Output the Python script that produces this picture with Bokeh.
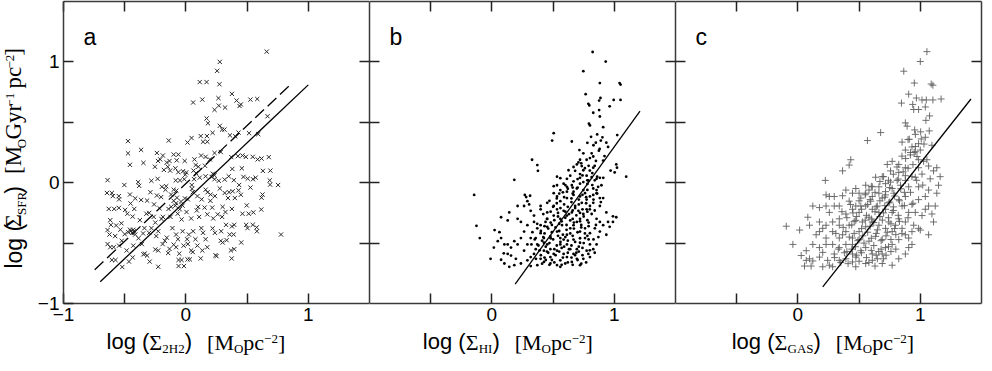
import math
from bokeh.plotting import figure
from bokeh.models import Range1d, FixedTicker, LinearAxis, Label
from bokeh.layouts import row, column
from bokeh.embed import file_html
from bokeh.resources import INLINE

# ---------------- data ----------------
a_pts = [
(0.66,1.085),(0.277,1.0),(0.255,0.926),(0.113,0.833),(0.169,0.833),(0.274,0.815),(0.266,0.70),(0.134,0.688),(0.059,0.664),(0.376,0.735),
(0.414,0.68),(0.449,0.648),(0.438,0.635),(0.527,0.688),(0.583,0.693),(0.269,0.638),(0.32,0.622),(0.234,0.603),(0.667,0.55),(0.169,0.532),
(0.18,0.492),(0.277,0.471),(0.296,0.44),(0.315,0.44),(0.218,0.413),(0.36,0.392),(0.43,0.415),(0.403,0.384),(0.516,0.41),(0.591,0.402),
(0.121,0.386),(0.172,0.386),(0.14,0.339),(0.175,0.339),(0.013,0.333),(0.046,0.37),(-0.14,0.349),(-0.473,0.344),(-0.473,0.243),(-0.366,0.272),
(-0.457,0.148),(-0.347,0.164),(-0.237,0.246),(-0.188,0.225),(-0.228,0.18),(-0.21,0.193),(-0.156,0.167),(-0.134,0.18),(-0.10,0.233),(-0.062,0.233),
(-0.075,0.185),(-0.01,0.18),(0.07,0.193),(0.124,0.225),(0.161,0.214),(0.196,0.193),(0.234,0.246),(0.285,0.254),(0.371,0.212),(0.425,0.22),
(0.462,0.225),(0.49,0.214),(0.546,0.214),(0.586,0.193),(0.618,0.20),(0.677,0.212),(-0.253,0.132),(-0.18,0.106),(-0.148,0.132),(-0.129,0.10),
(-0.086,0.119),(-0.062,0.087),(-0.024,0.095),(0.003,0.085),(-0.005,0.066),(0.08,0.146),(0.102,0.132),(0.062,0.10),(0.083,0.079),(0.156,0.14),
(0.22,0.074),(0.234,0.061),(0.379,0.114),(0.457,0.119),(0.629,0.098),(0.69,0.10),(-0.282,0.016),(-0.231,0.032),(-0.39,0.005),(-0.382,-0.026),
(-0.503,-0.019),(-0.64,0.021),(-0.161,-0.029),(-0.196,-0.034),(-0.083,0.019),(-0.048,0.019),(-0.013,0.029),(0.067,0.029),(0.048,-0.019),(0.113,0.042),
(0.161,0.053),(0.21,0.048),(0.234,0.029),(0.269,0.016),(0.317,0.026),(0.35,0.053),(0.392,0.021),(0.435,-0.019),(0.47,0.048),(0.505,0.034),
(0.548,0.029),(0.57,0.042),(0.685,0.019),(0.688,-0.016),(0.753,-0.019),(0.527,-0.04),(-0.645,-0.085),(-0.605,-0.085),(-0.597,-0.111),(-0.548,-0.111),
(-0.546,-0.138),(-0.63,-0.217),(-0.586,-0.217),(-0.548,-0.209),(-0.457,-0.098),(-0.414,-0.13),(-0.452,-0.172),(-0.366,-0.143),(-0.317,-0.148),(-0.29,-0.079),
(-0.237,-0.106),(-0.202,-0.119),(-0.167,-0.058),(-0.121,-0.098),(-0.10,-0.058),(-0.078,-0.066),(-0.073,-0.124),(-0.04,-0.156),(-0.027,-0.19),(-0.008,-0.13),
(0.016,-0.138),(0.056,-0.079),(0.094,-0.111),(0.129,-0.138),(0.161,-0.058),(0.177,-0.079),(0.202,-0.098),(0.237,-0.111),(0.277,-0.048),(0.317,-0.085),
(0.344,-0.127),(0.352,-0.079),(0.382,-0.071),(0.40,-0.127),(0.43,-0.063),(0.449,-0.10),(0.497,-0.188),(0.626,-0.098),(0.618,-0.124),(0.376,-0.217),
(0.462,-0.257),(0.513,-0.257),(0.551,-0.246),(0.616,-0.222),(-0.618,-0.31),(-0.613,-0.349),(-0.57,-0.354),(-0.527,-0.336),(-0.497,-0.225),(-0.478,-0.257),
(-0.435,-0.28),(-0.422,-0.217),(-0.376,-0.31),(-0.323,-0.257),(-0.263,-0.283),(-0.26,-0.18),(-0.215,-0.212),(-0.188,-0.283),(-0.142,-0.217),(-0.126,-0.283),
(-0.086,-0.19),(-0.067,-0.257),(-0.035,-0.304),(0.005,-0.243),(0.043,-0.296),(0.089,-0.23),(0.108,-0.283),(0.153,-0.206),(0.175,-0.262),(0.215,-0.206),
(0.223,-0.296),(0.26,-0.262),(0.296,-0.283),(0.323,-0.243),(0.328,-0.349),(0.376,-0.362),(0.395,-0.349),(0.492,-0.349),(0.503,-0.376),(0.546,-0.349),
(0.58,-0.402),(0.578,-0.37),(-0.64,-0.392),(-0.624,-0.429),(-0.578,-0.442),(-0.535,-0.389),(-0.50,-0.426),(-0.457,-0.389),(-0.44,-0.415),(-0.425,-0.402),
(-0.414,-0.429),(-0.387,-0.46),(-0.339,-0.376),(-0.30,-0.415),(-0.282,-0.376),(-0.242,-0.442),(-0.226,-0.402),(-0.172,-0.481),(-0.156,-0.455),(-0.11,-0.376),
(-0.08,-0.429),(-0.065,-0.468),(-0.027,-0.402),(0.01,-0.468),(0.024,-0.429),(0.059,-0.402),(0.078,-0.468),(0.126,-0.376),(0.14,-0.415),(0.161,-0.468),
(0.218,-0.378),(0.237,-0.415),(0.288,-0.402),(0.30,-0.495),(0.358,-0.429),(0.39,-0.429),(0.452,-0.495),(0.777,-0.429),(-0.64,-0.508),(-0.618,-0.534),
(-0.59,-0.534),(-0.546,-0.521),(-0.524,-0.481),(-0.484,-0.561),(-0.43,-0.521),(-0.36,-0.508),(-0.336,-0.587),(-0.317,-0.603),(-0.25,-0.553),(-0.226,-0.561),
(-0.19,-0.508),(-0.134,-0.548),(-0.10,-0.513),(-0.08,-0.534),(-0.054,-0.587),(-0.019,-0.521),(0.016,-0.508),(0.043,-0.561),(0.056,-0.574),(0.094,-0.521),
(0.134,-0.561),(0.175,-0.534),(0.242,-0.60),(0.25,-0.608),(0.285,-0.481),(0.333,-0.476),(0.368,-0.561),(0.395,-0.55),(0.374,-0.627),(-0.605,-0.64),
(-0.575,-0.64),(-0.52,-0.698),(-0.465,-0.653),(-0.435,-0.619),(-0.347,-0.593),(-0.296,-0.653),(-0.226,-0.696),(-0.145,-0.582),(-0.06,-0.64),(-0.035,-0.64),
(-0.06,-0.69),(-0.016,-0.69),(0.013,-0.635),(0.032,-0.635),(0.121,-0.627),(-0.45,-0.40),(-0.43,-0.39),(-0.47,-0.41),(-0.10,-0.15),(-0.08,-0.17),
(-0.12,-0.20),(-0.05,-0.22),(-0.20,-0.30),(-0.25,-0.33),(0.05,-0.05),(0.10,-0.20),(-0.30,-0.25),(-0.35,-0.42),(0.20,-0.15),(0.30,-0.20),
]

b_pts = [
(0.823,1.082),(0.93,1.003),(0.747,0.923),(0.882,0.825),(1.043,0.825),(1.051,0.812),(0.766,0.733),(0.887,0.701),(0.876,0.68),(0.995,0.685),
(1.051,0.685),(0.788,0.653),(0.796,0.64),(0.962,0.632),(0.876,0.601),(0.828,0.579),(0.882,0.548),(0.793,0.489),(0.801,0.474),(0.909,0.46),
(1.024,0.394),(0.505,0.41),(0.492,0.349),(0.653,0.341),(0.903,0.376),(0.89,0.349),(0.849,0.331),(0.935,0.331),(0.949,0.296),(0.874,0.265),
(0.715,0.27),(0.747,0.243),(0.815,0.243),(0.828,0.217),(0.801,0.204),(0.774,0.19),(0.909,0.183),(0.328,0.19),(0.371,0.146),(0.376,0.098),
(0.72,0.19),(0.707,0.169),(0.694,0.151),(0.734,0.138),(0.667,0.13),(0.626,0.103),(0.68,0.098),(0.747,0.103),(0.828,0.124),(1.016,0.151),
(1.022,0.124),(1.003,0.085),(1.097,0.05),(0.183,0.024),(0.532,0.05),(0.559,0.037),(0.613,0.032),(0.64,0.058),(0.72,0.071),(0.774,0.058),
(0.815,0.045),(0.855,0.032),(0.882,0.04),(0.788,0.019),(0.747,0.005),(0.667,0.011),(0.586,-0.008),(0.532,-0.021),(0.505,-0.029),(0.559,-0.061),
(0.613,-0.074),(0.694,-0.048),(0.747,-0.061),(0.828,-0.048),(0.868,-0.034),(0.895,-0.021),(-0.145,-0.101),(0.269,-0.101),(0.28,-0.119),(0.312,-0.108),
(0.29,-0.153),(0.304,-0.18),(0.263,-0.193),(0.21,-0.193),(0.142,-0.246),(0.075,-0.286),(0.129,-0.312),(0.21,-0.299),(0.237,-0.325),(0.317,-0.233),
(0.344,-0.272),(0.398,-0.193),(0.452,-0.167),(0.505,-0.087),(0.532,-0.114),(0.559,-0.153),(0.613,-0.127),(0.667,-0.101),(0.72,-0.114),(0.774,-0.14),
(0.828,-0.167),(0.882,-0.193),(0.855,-0.087),(0.909,-0.127),(0.935,-0.246),(0.989,-0.278),(1.016,-0.286),(-0.126,-0.357),(-0.099,-0.458),(0.022,-0.392),
(0.062,-0.41),(0.075,-0.458),(0.016,-0.537),(0.048,-0.484),(0.097,-0.585),(0.129,-0.59),(0.156,-0.603),(0.196,-0.63),(-0.011,-0.63),(0.075,-0.638),
(0.102,-0.669),(0.142,-0.696),(0.183,-0.683),(0.237,-0.669),(0.29,-0.643),(0.317,-0.616),(0.344,-0.59),(0.358,-0.55),(0.323,-0.511),(0.358,-0.458),
(0.331,-0.41),(0.371,-0.378),(0.398,-0.352),(0.438,-0.325),(0.452,-0.365),(0.398,-0.418),(0.425,-0.458),(0.452,-0.511),(0.478,-0.55),(0.505,-0.59),
(0.532,-0.563),(0.559,-0.511),(0.586,-0.471),(0.613,-0.431),(0.64,-0.378),(0.667,-0.352),(0.694,-0.325),(0.72,-0.299),(0.747,-0.259),(0.774,-0.22),
(0.801,-0.193),(0.815,-0.259),(0.855,-0.299),(0.882,-0.325),(0.841,-0.378),(0.801,-0.418),(0.761,-0.458),(0.72,-0.497),(0.694,-0.55),(0.667,-0.59),
(0.613,-0.616),(0.559,-0.643),(0.532,-0.683),(0.478,-0.669),(0.425,-0.656),(0.398,-0.63),(0.371,-0.683),(0.317,-0.69),(0.559,-0.696),(0.599,-0.669),
(0.653,-0.656),(0.72,-0.683),(0.747,-0.63),(0.788,-0.59),(0.828,-0.55),(0.855,-0.511),(0.801,-0.511),(0.774,-0.563),(0.962,-0.365),(0.989,-0.325),
(0.935,-0.431),(0.398,-0.22),(0.452,-0.246),(0.505,-0.272),(0.559,-0.299),(0.532,-0.22),(0.586,-0.233),(0.613,-0.272),(0.64,-0.312),(0.573,-0.352),
(0.532,-0.405),(0.478,-0.444),(0.425,-0.497),(0.559,-0.458),(0.613,-0.511),(0.667,-0.471),(0.72,-0.405),(0.761,-0.378),(0.68,-0.193),(0.707,-0.233),
(0.653,-0.246),(0.734,-0.167),(0.761,-0.087),(0.667,-0.074),(0.55,-0.09),(0.505,-0.193),(0.452,-0.299),(0.371,-0.511),(0.425,-0.563),(0.478,-0.616),
(0.344,-0.325),(0.29,-0.352),(0.263,-0.405),(0.237,-0.458),(0.21,-0.511),(0.263,-0.563),(0.29,-0.511),(0.317,-0.458),(0.183,-0.484),(0.156,-0.537),
(0.129,-0.511),(0.102,-0.511),(0.586,-0.59),(0.64,-0.55),(0.694,-0.63),(0.801,-0.616),(0.882,-0.405),(0.909,-0.352),(0.949,-0.325),(0.882,-0.127),
(0.828,-0.101),(0.855,-0.061),(0.801,-0.114),(0.72,-0.008),(0.653,-0.021),(0.613,-0.034),
(0.40,-0.60),(0.43,-0.62),(0.46,-0.58),(0.49,-0.64),(0.52,-0.60),(0.55,-0.57),(0.58,-0.62),(0.62,-0.58),(0.65,-0.62),(0.68,-0.60),
(0.71,-0.57),(0.74,-0.60),(0.77,-0.66),(0.38,-0.52),(0.41,-0.48),(0.44,-0.53),(0.47,-0.50),(0.50,-0.47),(0.53,-0.52),(0.56,-0.49),
(0.59,-0.53),(0.62,-0.48),(0.65,-0.52),(0.68,-0.49),(0.71,-0.53),(0.75,-0.50),(0.79,-0.47),(0.40,-0.40),(0.43,-0.42),(0.46,-0.38),
(0.49,-0.41),(0.52,-0.37),(0.55,-0.40),(0.58,-0.43),(0.61,-0.39),(0.64,-0.42),(0.67,-0.38),(0.70,-0.41),(0.73,-0.37),(0.76,-0.42),
(0.79,-0.36),(0.45,-0.30),(0.48,-0.33),(0.51,-0.31),(0.54,-0.28),(0.57,-0.32),(0.60,-0.29),(0.63,-0.26),(0.66,-0.30),(0.69,-0.27),
(0.72,-0.32),(0.75,-0.28),(0.78,-0.31),(0.50,-0.20),(0.53,-0.17),(0.56,-0.21),(0.59,-0.18),(0.62,-0.20),(0.65,-0.16),(0.68,-0.21),
(0.71,-0.18),(0.74,-0.22),(0.77,-0.17),(0.80,-0.22),(0.58,-0.08),(0.62,-0.05),(0.66,-0.09),(0.70,-0.04),(0.74,-0.10),(0.78,-0.06),
(0.82,-0.02),(0.86,-0.09),(0.70,0.03),(0.74,0.06),(0.78,0.02),(0.82,0.08),(0.86,0.05),(0.76,0.12),(0.80,0.10),(0.84,0.14),
(0.36,-0.63),(0.41,-0.67),(0.44,-0.64),(0.47,-0.68),(0.51,-0.66),(0.57,-0.68),(0.62,-0.66),(0.66,-0.68),(0.70,-0.64),(0.73,-0.67),
(0.39,-0.56),(0.45,-0.57),(0.51,-0.55),(0.57,-0.54),(0.63,-0.55),(0.69,-0.58),(0.74,-0.54),(0.80,-0.56),(0.84,-0.58),(0.35,-0.47),
(0.42,-0.45),(0.48,-0.46),(0.54,-0.44),(0.60,-0.45),(0.66,-0.44),(0.72,-0.46),(0.78,-0.44),(0.83,-0.47),(0.87,-0.45),(0.37,-0.34),
(0.43,-0.36),(0.49,-0.35),(0.55,-0.34),(0.61,-0.35),(0.67,-0.33),(0.73,-0.35),(0.79,-0.33),(0.85,-0.35),(0.42,-0.26),(0.48,-0.24),
(0.54,-0.25),(0.60,-0.24),(0.66,-0.23),(0.72,-0.25),(0.78,-0.24),(0.84,-0.23),(0.47,-0.15),(0.53,-0.13),(0.59,-0.12),(0.65,-0.13),
(0.71,-0.14),(0.77,-0.12),(0.83,-0.14),(0.89,-0.16),(0.60,-0.02),(0.66,-0.04),(0.72,0.04),(0.78,-0.01),(0.84,0.02),(0.91,0.04),
(0.73,0.16),(0.79,0.14),(0.85,0.18),(0.88,0.28),(0.83,0.31),(0.78,0.33),(0.86,0.40),(0.81,0.38),(0.92,0.22),(0.97,0.10),
]

c_pts = [
(1.054,1.085),(1.0,1.003),(0.865,0.923),(0.951,0.825),(1.089,0.817),(1.103,0.807),(0.905,0.733),(0.846,0.659),(0.968,0.701),(0.938,0.648),
(1.014,0.685),(1.049,0.685),(1.103,0.685),(1.17,0.693),(0.946,0.606),(0.986,0.606),(1.041,0.627),(1.076,0.553),(1.046,0.516),(0.878,0.495),
(0.892,0.468),(0.954,0.437),(1.003,0.421),(1.073,0.429),(1.041,0.376),(1.008,0.362),(0.676,0.415),(0.568,0.349),(0.9,0.357),(0.851,0.336),
(0.986,0.323),(0.932,0.296),(1.095,0.31),(0.878,0.27),(0.959,0.257),(0.919,0.23),(0.973,0.217),(1.054,0.19),(0.432,0.19),(0.419,0.146),
(0.365,0.098),(0.224,0.019),(0.77,0.177),(0.73,0.151),(0.824,0.151),(0.878,0.124),(0.986,0.124),(1.068,0.138),(1.108,0.098),(1.162,0.05),
(0.757,0.098),(0.689,0.05),(0.824,0.085),(0.878,0.058),(0.932,0.05),(1.014,0.071),(1.081,0.032),(0.635,0.045),(0.554,-0.021),(0.473,-0.048),
(0.23,-0.101),(0.297,-0.114),(0.365,-0.108),(0.122,-0.193),(0.176,-0.206),(0.257,-0.246),(0.081,-0.286),(-0.095,-0.36),(0.014,-0.392),(-0.041,-0.511),
(0.392,-0.061),(0.446,-0.087),(0.50,-0.087),(0.581,-0.061),(0.662,-0.034),(0.716,-0.074),(0.77,-0.048),(0.838,-0.021),(0.905,-0.034),(0.986,-0.034),
(1.068,-0.061),(1.135,-0.087),(0.608,-0.114),(0.689,-0.127),(0.743,-0.167),(0.824,-0.14),(0.878,-0.114),(0.932,-0.18),(0.986,-0.14),(1.041,-0.22),
(1.095,-0.259),(1.108,-0.325),(1.068,-0.431),(0.554,-0.193),(0.608,-0.22),(0.662,-0.246),(0.716,-0.22),(0.77,-0.246),(0.824,-0.299),(0.878,-0.325),
(0.946,-0.352),(1.0,-0.392),(0.50,-0.246),(0.446,-0.22),(0.392,-0.259),(0.338,-0.299),(0.284,-0.325),(0.23,-0.352),(0.176,-0.405),(0.149,-0.431),
(0.122,-0.511),(0.068,-0.563),(0.027,-0.603),(0.068,-0.643),(0.054,-0.69),(0.108,-0.69),(0.122,-0.648),(0.176,-0.616),(0.203,-0.577),(0.243,-0.643),
(0.257,-0.683),(0.297,-0.59),(0.338,-0.537),(0.392,-0.511),(0.446,-0.59),(0.473,-0.616),(0.514,-0.563),(0.554,-0.537),(0.608,-0.59),(0.649,-0.63),
(0.689,-0.59),(0.716,-0.537),(0.77,-0.511),(0.824,-0.471),(0.878,-0.431),(0.932,-0.405),(0.986,-0.378),(0.50,-0.405),(0.554,-0.365),(0.608,-0.325),
(0.662,-0.352),(0.716,-0.378),(0.77,-0.405),(0.446,-0.458),(0.392,-0.405),(0.338,-0.458),(0.284,-0.511),(0.23,-0.511),(0.554,-0.669),(0.608,-0.643),
(0.689,-0.669),(0.77,-0.683),(0.824,-0.63),(0.878,-0.59),(0.905,-0.537),(0.932,-0.511),(0.284,-0.696),(0.338,-0.643),(0.392,-0.63),(0.446,-0.656),
(0.473,-0.696),(0.50,-0.471),(0.581,-0.484),(0.635,-0.444),(0.689,-0.471),(0.743,-0.325),(0.797,-0.352),(0.851,-0.378),(0.905,-0.458),(0.419,-0.352),
(0.473,-0.312),(0.527,-0.325),(0.581,-0.286),(0.365,-0.431),(0.446,-0.511),(0.23,-0.458),(0.176,-0.537),(0.095,-0.63),(0.203,-0.696),(0.514,-0.193),
(0.595,-0.153),(0.649,-0.193),(0.716,-0.101),(0.784,-0.087),(0.851,-0.193),(0.905,-0.246),(0.959,-0.246),(1.014,-0.272),(1.068,-0.193),(0.959,0.045),
(0.878,0.019),(0.811,0.019),(0.757,0.005),(0.716,-0.008),(0.662,-0.087),(0.608,-0.034),(0.554,-0.087),(0.514,-0.127),(0.473,-0.193),(0.419,-0.153),
(0.338,-0.193),(0.297,-0.193),(0.257,-0.114),(0.23,-0.193),(0.176,-0.325),(0.203,-0.378),(0.095,-0.352),(0.284,-0.405),(0.338,-0.352),(1.041,-0.114),
(1.122,-0.193),(1.149,-0.021),(1.135,0.124),(1.027,0.177),(0.986,0.19),
(0.45,-0.25),(0.48,-0.28),(0.52,-0.22),(0.56,-0.27),(0.60,-0.30),(0.63,-0.24),(0.67,-0.28),(0.70,-0.25),(0.74,-0.29),(0.78,-0.23),
(0.82,-0.27),(0.42,-0.45),(0.46,-0.42),(0.49,-0.48),(0.53,-0.44),(0.57,-0.41),(0.60,-0.46),(0.64,-0.42),(0.68,-0.48),(0.72,-0.44),
(0.76,-0.47),(0.80,-0.43),(0.40,-0.57),(0.44,-0.55),(0.48,-0.60),(0.52,-0.58),(0.56,-0.62),(0.60,-0.56),(0.64,-0.60),(0.68,-0.55),
(0.72,-0.60),(0.76,-0.57),(0.55,-0.10),(0.59,-0.14),(0.63,-0.08),(0.67,-0.15),(0.71,-0.12),(0.75,-0.16),(0.79,-0.11),(0.83,-0.15),
(0.87,-0.08),(0.70,0.05),(0.74,0.02),(0.78,0.07),(0.82,0.03),(0.86,0.09),(0.90,0.12),(0.94,0.15),(0.88,0.20),(0.92,0.25),(0.96,0.30),
(0.30,-0.62),(0.35,-0.66),(0.41,-0.67),(0.50,-0.65),(0.58,-0.66),(0.63,-0.69),(0.70,-0.63),(0.33,-0.55),(0.38,-0.58),(0.47,-0.53),
(0.54,-0.50),(0.62,-0.52),(0.66,-0.57),(0.74,-0.53),(0.80,-0.55),(0.31,-0.42),(0.37,-0.37),(0.44,-0.35),(0.52,-0.38),(0.59,-0.36),
(0.65,-0.39),(0.73,-0.41),(0.79,-0.38),(0.85,-0.42),(0.40,-0.29),(0.46,-0.32),(0.55,-0.31),(0.62,-0.33),(0.69,-0.31),(0.76,-0.34),
(0.83,-0.32),(0.90,-0.29),(0.36,-0.24),(0.43,-0.18),(0.50,-0.15),(0.57,-0.18),(0.64,-0.20),(0.71,-0.19),(0.78,-0.20),(0.87,-0.19),
(0.94,-0.17),(0.60,-0.03),(0.67,0.01),(0.75,-0.04),(0.84,-0.05),(0.92,-0.08),(0.97,0.02),(1.02,-0.02),(0.81,0.13),(0.85,0.22),
(0.95,0.25),(1.00,0.27),(0.91,0.36),(0.96,0.40),(1.03,0.32),
]

a_x = [p[0] for p in a_pts]; a_y = [p[1] for p in a_pts]
b_x = [p[0] for p in b_pts]; b_y = [p[1] for p in b_pts]
c_x = [p[0] for p in c_pts]; c_y = [p[1] for p in c_pts]

# fitted relations (end points)
a_fit_x = [-0.70, 1.00];  a_fit_y = [-0.82, 0.81]
a_dash_x = [-0.745, 0.852]; a_dash_y = [-0.72, 0.81]
b_fit_x = [0.19, 1.21];   b_fit_y = [-0.84, 0.593]
c_fit_x = [0.203, 1.414]; c_fit_y = [-0.862, 0.693]

x_ticks = [-1, -0.5, 0, 0.5, 1]
y_ticks = [-1, -0.5, 0, 0.5, 1]
tick_text = {-1: "\u22121", -0.5: "", 0: "0", 0.5: "", 1: "1"}
panel_letters = ["a", "b", "c"]
x_subs = ["2H2", "HI", "GAS"]
y_sub = "SFR"

# ---------------- layout constants ----------------
FRAME_W, FRAME_H = 306, 302
TOP, BOTTOM = 1, 26
YLAB_W = 28
LEFT_A = 35
PANEL_H = TOP + FRAME_H + BOTTOM        # 329
XLAB_H = 26                              # 329 .. 355
PX_X = FRAME_W / 2.5
PX_Y = FRAME_H / 2.5
SANS, SERIF = "Liberation Sans", "Liberation Serif"
SPINE = "#3a3a3a"
MID = {SANS: 0.3465, SERIF: 0.3375}      # baseline -> middle of the em box, in em

W_SANS = {'l': 222, 'o': 556, 'g': 556, ' ': 278, '(': 333, ')': 333}
W_SERIF = {'\u03a3': 592, '[': 333, ']': 333, 'M': 889, 'O': 722, 'p': 500, 'c': 444, 'G': 722,
           'y': 500, 'r': 333, '\u2212': 564, '1': 500, '2': 500, 'S': 556, 'F': 556, 'R': 667,
           'H': 722, 'I': 333, 'A': 722, ' ': 250}


def text_w(s, font, size):
    table = W_SANS if font == SANS else W_SERIF
    return sum(table.get(ch, 550) for ch in s) * size / 1000.0


def add_rich(p, pieces, x, y, vertical=False):
    """x, y: start of the baseline, in the strip's pixel-like data units (y up)."""
    for txt, font, size, shift in pieces:
        if font is None:
            adv = size
        else:
            up = shift + MID[font] * size
            lx, ly = (x - up, y) if vertical else (x, y + up)
            p.add_layout(Label(x=lx, y=ly, text=txt, text_font=font, text_font_size=f"{size}px",
                               text_color="black", text_align="left", text_baseline="middle",
                               angle=(math.pi / 2 if vertical else 0)))
            adv = text_w(txt, font, size)
        if vertical:
            y += adv
        else:
            x += adv


def rich_width(pieces):
    return sum(pc[2] if pc[1] is None else text_w(pc[0], pc[1], pc[2]) for pc in pieces)


def xlabel_pieces(sub):
    return [("log (", SANS, 22, 0), ("\u03a3", SERIF, 22, 0), (sub, SERIF, 13, -3), (")", SANS, 22, 0),
            ("", None, 15, 0), ("[M", SERIF, 22, 0), ("O", SERIF, 13, -3), ("pc", SERIF, 22, 0),
            ("\u22122", SERIF, 13, 6), ("]", SERIF, 22, 0)]


ylabel_pieces = [("log (", SANS, 23, 0), ("\u03a3", SERIF, 23, 0), (y_sub, SERIF, 13, -4), (")", SANS, 23, 0),
                 ("", None, 14, 0), ("[M", SERIF, 23, 0), ("O", SERIF, 13, -4), ("Gyr", SERIF, 23, 0),
                 ("\u22121", SERIF, 13, 7), ("", None, 6, 0), ("pc", SERIF, 23, 0),
                 ("\u22122", SERIF, 13, 7), ("]", SERIF, 23, 0)]


def make_axis(ticks, labels, show):
    ax = LinearAxis(ticker=FixedTicker(ticks=ticks))
    ax.major_tick_in = 10
    ax.major_tick_out = 0
    ax.minor_tick_line_color = None
    ax.major_tick_line_color = "#222222"
    ax.major_tick_line_width = 1.5
    ax.axis_line_color = SPINE
    ax.axis_line_width = 1.5
    if show:
        ax.major_label_overrides = labels
        ax.major_label_text_font = SANS
        ax.major_label_text_font_size = "19px"
        ax.major_label_text_color = "black"
        ax.major_label_standoff = 4
    else:
        ax.major_label_overrides = {t: "" for t in ticks}
        ax.major_label_text_font_size = "0px"
        ax.major_label_standoff = 0
    return ax


def blank_fig(w, h):
    f = figure(width=w, height=h, x_range=Range1d(0, w), y_range=Range1d(0, h),
               x_axis_location=None, y_axis_location=None, min_border=0,
               output_backend="svg", toolbar_location=None)
    f.grid.visible = False
    f.outline_line_color = None
    f.border_fill_color = "white"
    return f


def make_panel(idx, left, right, show_y):
    p = figure(width=left + FRAME_W + right, height=PANEL_H,
               x_range=Range1d(-1, 1.5), y_range=Range1d(-1, 1.5),
               x_axis_location=None, y_axis_location=None,
               min_border_left=left, min_border_right=right, min_border_top=TOP,
               min_border_bottom=BOTTOM, output_backend="svg", toolbar_location=None)
    p.grid.visible = False
    p.outline_line_color = None
    p.background_fill_color = "white"
    p.border_fill_color = "white"
    xt = x_ticks if idx == 0 else x_ticks[1:]
    p.add_layout(make_axis(xt, tick_text, True), "below")
    p.add_layout(make_axis(xt, tick_text, False), "above")
    p.add_layout(make_axis(y_ticks[1:], tick_text, False), "right")
    if show_y:
        p.add_layout(make_axis(y_ticks, tick_text, True), "left")
    else:
        p.add_layout(make_axis(y_ticks[1:], tick_text, False), "left")
    # letter: baseline 43 px below the frame top, 20 px in from the left spine
    mid_px = 43 - MID[SANS] * 23
    p.add_layout(Label(x=-1 + 20 / PX_X, y=1.5 - mid_px / PX_Y, text=panel_letters[idx], text_font=SANS,
                       text_font_size="23px", text_color="black", text_baseline="middle"))
    return p


pa = make_panel(0, LEFT_A, 0, True)
pb = make_panel(1, 0, 0, False)
pc = make_panel(2, 0, 2, False)

pa.scatter(a_x, a_y, marker="x", size=6, line_color="#2a2a2a", line_width=1)
pa.line(a_fit_x, a_fit_y, line_color="black", line_width=1.3)
pa.line(a_dash_x, a_dash_y, line_color="black", line_width=1.3, line_dash="12 5")

pb.scatter(b_x, b_y, marker="circle", size=2.8, fill_color="black", line_color=None)
pb.line(b_fit_x, b_fit_y, line_color="black", line_width=1.3)

pc.scatter(c_x, c_y, marker="cross", size=7, line_color="#606060", line_alpha=0.9, line_width=1)
pc.line(c_fit_x, c_fit_y, line_color="black", line_width=1.3)

# axis titles, composed from text pieces in two label strips
total_w = YLAB_W + LEFT_A + 3 * FRAME_W + 2
ylab = blank_fig(YLAB_W, PANEL_H)
add_rich(ylab, ylabel_pieces, 21, PANEL_H - 291, vertical=True)

xlab = blank_fig(total_w, XLAB_H)
frame_lefts = [YLAB_W + LEFT_A + k * FRAME_W for k in range(3)]
label_offsets = [10, 16, 25]   # label centre relative to x = 0, in pixels
for sub, fl, off in zip(x_subs, frame_lefts, label_offsets):
    pcs = xlabel_pieces(sub)
    centre = fl + PX_X + off
    add_rich(xlab, pcs, centre - rich_width(pcs) / 2, XLAB_H - 20)

layout = column(row(ylab, pa, pb, pc), xlab)
open("out.html", "w").write(file_html(layout, INLINE))
